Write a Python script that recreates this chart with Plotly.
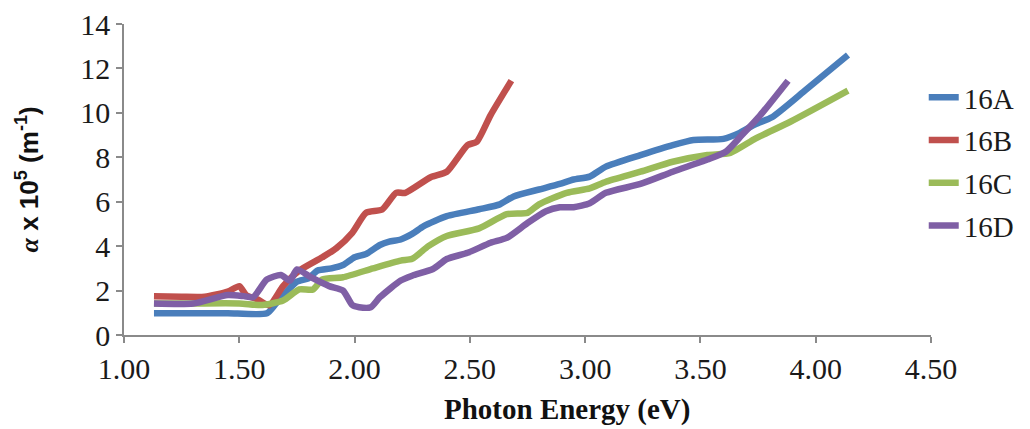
import plotly.graph_objects as go

# ---- data ----
energy_a = [1.13, 1.30, 1.45, 1.62, 1.66, 1.70, 1.75, 1.80, 1.84, 1.90, 1.95, 2.00, 2.05, 2.11, 2.15, 2.20, 2.25,
            2.30, 2.40, 2.54, 2.63, 2.69, 2.80, 2.89, 2.95, 3.02, 3.09, 3.24, 3.38, 3.47, 3.60, 3.67, 3.74,
            3.81, 3.96, 4.14]
alpha_a = [0.98, 0.98, 0.98, 0.98, 1.43, 1.90, 2.40, 2.55, 2.90, 3.00, 3.15, 3.50, 3.65, 4.05, 4.20, 4.30, 4.55,
           4.90, 5.35, 5.66, 5.88, 6.24, 6.55, 6.80, 7.00, 7.13, 7.58, 8.10, 8.55, 8.78, 8.83, 9.10, 9.50,
           9.80, 11.06, 12.60]

energy_b = [1.13, 1.25, 1.35, 1.45, 1.50, 1.53, 1.58, 1.63, 1.69, 1.76, 1.86, 1.92, 1.99, 2.05, 2.12, 2.18,
            2.22, 2.33, 2.40, 2.49, 2.53, 2.59, 2.68]
alpha_b = [1.74, 1.72, 1.72, 1.95, 2.20, 1.80, 1.60, 1.34, 2.20, 2.90, 3.50, 3.90, 4.60, 5.50, 5.65, 6.40,
           6.40, 7.10, 7.35, 8.55, 8.70, 9.90, 11.45]

energy_c = [1.13, 1.30, 1.50, 1.60, 1.69, 1.76, 1.82, 1.86, 1.95, 2.08, 2.20, 2.25, 2.32, 2.40, 2.54, 2.66,
            2.75, 2.80, 2.92, 3.02, 3.09, 3.24, 3.38, 3.53, 3.63, 3.74, 3.89, 4.14]
alpha_c = [1.42, 1.42, 1.42, 1.35, 1.55, 2.05, 2.05, 2.50, 2.60, 3.00, 3.35, 3.43, 4.00, 4.46, 4.80, 5.44,
           5.50, 5.88, 6.40, 6.60, 6.90, 7.35, 7.80, 8.10, 8.20, 8.85, 9.60, 11.00]

energy_d = [1.13, 1.30, 1.45, 1.52, 1.56, 1.62, 1.68, 1.72, 1.75, 1.81, 1.89, 1.95, 1.99, 2.02, 2.07, 2.11,
            2.20, 2.25, 2.34, 2.40, 2.49, 2.59, 2.66, 2.75, 2.83, 2.89, 2.95, 3.02, 3.09, 3.24, 3.38, 3.53,
            3.61, 3.68, 3.76, 3.88]
alpha_d = [1.42, 1.42, 1.80, 1.75, 1.70, 2.50, 2.70, 2.45, 2.95, 2.60, 2.20, 2.00, 1.35, 1.25, 1.25, 1.70,
           2.45, 2.67, 2.97, 3.42, 3.70, 4.15, 4.37, 5.04, 5.57, 5.75, 5.75, 5.93, 6.40, 6.80, 7.35, 7.90,
           8.25, 9.00, 9.90, 11.45]

series_names = ["16A", "16B", "16C", "16D"]
series_colors = ["#4A7EBB", "#C0504D", "#9BBB59", "#7F5FA5"]

x_ticks = [1.0, 1.5, 2.0, 2.5, 3.0, 3.5, 4.0, 4.5]
y_ticks = [0, 2, 4, 6, 8, 10, 12, 14]

SERIF = "Liberation Serif, Times New Roman, serif"
SANS = "Liberation Sans, Arial, sans-serif"

fig = go.Figure()
for name, xs, ys, col in zip(series_names,
                             [energy_a, energy_b, energy_c, energy_d],
                             [alpha_a, alpha_b, alpha_c, alpha_d],
                             series_colors):
    fig.add_trace(go.Scatter(
        x=xs, y=ys, name=name, mode="lines", legendgroup=name,
        line=dict(color=col, width=6.5, shape="spline", smoothing=0.6),
    ))

axis_col = "#8A8A8A"
fig.update_layout(
    width=1022, height=421,
    paper_bgcolor="white", plot_bgcolor="white",
    margin=dict(l=116, r=99, t=16, b=94, autoexpand=False),
    showlegend=True,
    legend=dict(
        x=0.991, xanchor="left", y=0.558, yanchor="middle",
        font=dict(family=SERIF, size=29, color="#1a1a1a"),
        tracegroupgap=2, bgcolor="rgba(0,0,0,0)",
    ),
    xaxis=dict(
        range=[1.0, 4.5], tickvals=x_ticks, tickformat=".2f",
        showgrid=False, zeroline=False,
        showline=True, linecolor=axis_col, linewidth=1.5,
        ticks="outside", ticklen=6, tickcolor=axis_col, tickwidth=1.5,
        tickfont=dict(family=SERIF, size=30, color="#1a1a1a"),
        ticklabeloverflow="allow",
        automargin=False,
    ),
    yaxis=dict(
        range=[0, 14], tickvals=y_ticks,
        showgrid=False, zeroline=False,
        showline=True, linecolor=axis_col, linewidth=1.5,
        ticks="outside", ticklen=6, tickcolor=axis_col, tickwidth=1.5,
        tickfont=dict(family=SERIF, size=30, color="#1a1a1a"),
        ticklabeloverflow="allow",
        automargin=False,
    ),
    annotations=[
        dict(text="<b>Photon Energy (eV)</b>", xref="paper", yref="paper",
             x=0.549, y=-0.24, xanchor="center", yanchor="middle", showarrow=False,
             font=dict(family=SERIF, size=29, color="#111111")),
        dict(text="<b><span style='font-family:Liberation Serif'><i>α</i></span> x 10<sup>5</sup> (m<sup>-1</sup>)</b>",
             xref="paper", yref="paper",
             x=-0.119, y=0.5, xanchor="center", yanchor="middle", showarrow=False, textangle=-90,
             font=dict(family=SANS, size=26, color="#111111")),
    ],
)

fig.write_html("out.html")
